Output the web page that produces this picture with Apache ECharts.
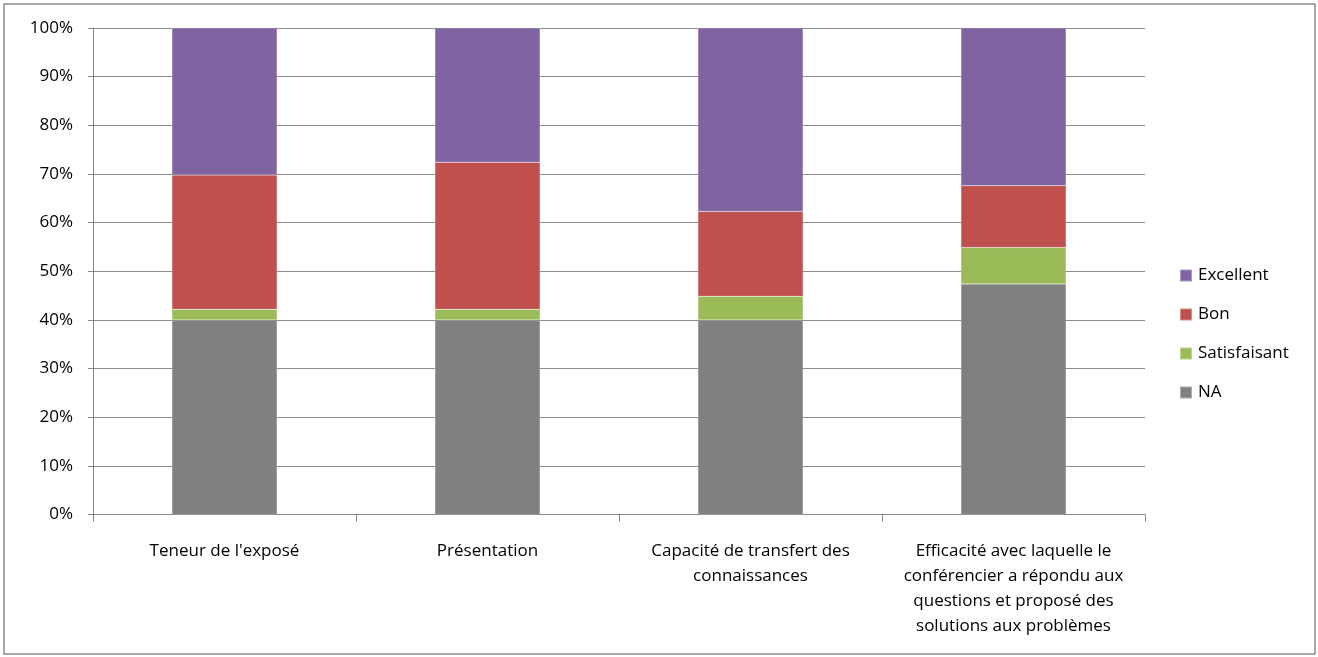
<!DOCTYPE html>
<html>
<head>
<meta charset="utf-8">
<script src="https://cdn.jsdelivr.net/npm/echarts@6/dist/echarts.min.js"></script>
<style>
html,body{margin:0;padding:0;background:#fff;}
#chart{width:1318px;height:657px;}
</style>
</head>
<body>
<div id="chart"></div>
<script>
const categories = [
  "Teneur de l'exposé",
  "Présentation",
  "Capacité de transfert des\nconnaissances",
  "Efficacité avec laquelle le\nconférencier a répondu aux\nquestions et proposé des\nsolutions aux problèmes"
];
const seriesNames = ["NA", "Satisfaisant", "Bon", "Excellent"];
const naValues = [40.0, 40.0, 40.0, 47.4];
const satisfaisantValues = [2.2, 2.2, 4.85, 7.5];
const bonValues = [27.6, 30.2, 17.45, 12.7];
const excellentValues = [30.2, 27.6, 37.7, 32.4];
const yTicks = [0, 10, 20, 30, 40, 50, 60, 70, 80, 90, 100];

const colors = {NA: '#808080', Satisfaisant: '#9BBB59', Bon: '#C0504D', Excellent: '#8064A2'};
const valuesByName = {NA: naValues, Satisfaisant: satisfaisantValues, Bon: bonValues, Excellent: excellentValues};
const FONT = 'Open Sans';
const FS = 17;

const chart = echarts.init(document.getElementById('chart'), null, {renderer: 'canvas'});
chart.setOption({
  animation: false,
  backgroundColor: '#fff',
  textStyle: {fontFamily: FONT},
  graphic: [{
    type: 'rect',
    shape: {x: 4, y: 4, width: 1311, height: 650},
    style: {fill: 'none', stroke: '#8c8c8c', lineWidth: 1.5},
    silent: true,
    z: 0
  }],
  grid: {left: 93, right: 173, top: 28, bottom: 142.5, containLabel: false},
  legend: {
    orient: 'vertical',
    left: 1179,
    top: 267,
    padding: 0,
    icon: 'rect',
    itemWidth: 12,
    itemHeight: 12,
    itemGap: 22,
    data: ['Excellent', 'Bon', 'Satisfaisant', 'NA'],
    textStyle: {fontFamily: FONT, fontSize: FS, color: '#000', lineHeight: 12, padding: [0, 0, 0, 1]}
  },
  xAxis: {
    type: 'category',
    data: categories,
    axisLine: {lineStyle: {color: '#868686', width: 1}},
    axisTick: {show: true, length: 7, alignWithLabel: false, lineStyle: {color: '#868686'}},
    axisLabel: {
      interval: 0,
      margin: 24,
      color: '#000',
      fontFamily: FONT,
      fontSize: FS,
      lineHeight: 25,
      align: 'center',
      verticalAlign: 'top'
    },
    splitLine: {show: false}
  },
  yAxis: {
    type: 'value',
    min: yTicks[0],
    max: yTicks[yTicks.length - 1],
    interval: 10,
    axisLine: {show: true, lineStyle: {color: '#868686', width: 1}},
    axisTick: {show: true, length: 5, lineStyle: {color: '#868686'}},
    axisLabel: {
      formatter: v => v + '%',
      margin: 20,
      color: '#000',
      fontFamily: FONT,
      fontSize: FS
    },
    splitLine: {show: true, lineStyle: {color: '#8c8c8c', width: 1}}
  },
  series: seriesNames.map(name => ({
    name: name,
    type: 'bar',
    stack: 'total',
    barWidth: '40%',
    data: valuesByName[name],
    itemStyle: {color: colors[name], borderColor: 'rgba(255,255,255,0.35)', borderWidth: 0.5}
  }))
});
</script>
</body>
</html>
